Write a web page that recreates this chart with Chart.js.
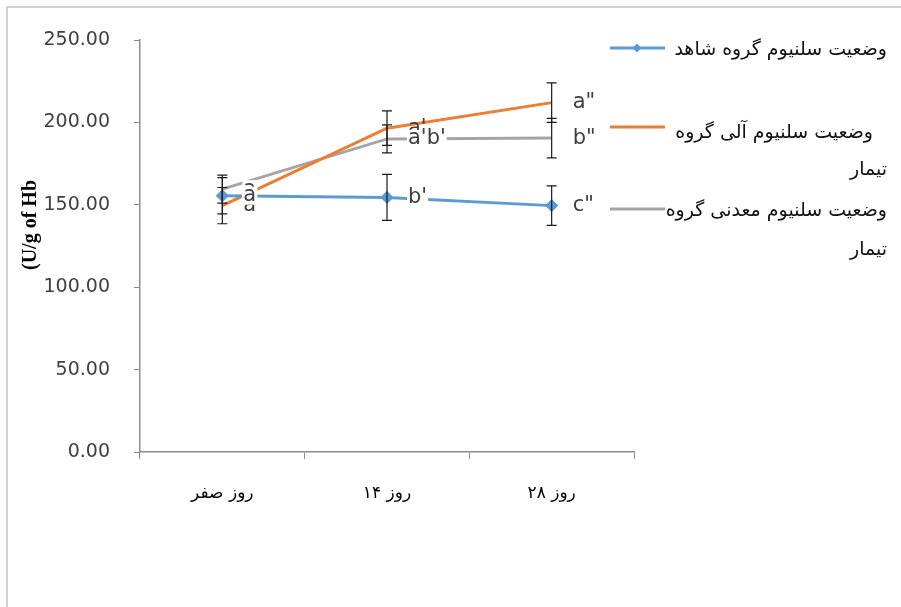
<!DOCTYPE html>
<html>
<head>
<meta charset="utf-8">
<script src="https://cdn.jsdelivr.net/npm/chart.js@4.4.1/dist/chart.umd.min.js"></script>
<style>
  html, body { margin: 0; padding: 0; background: #ffffff; }
  #wrap { width: 901px; height: 607px; }
</style>
</head>
<body>
<div id="wrap"><canvas id="c" width="901" height="607"></canvas></div>
<script>
// Sampling days
const categories = ['روز صفر', 'روز ۱۴', 'روز ۲۸'];

// Selenium status per group
const controlValues = [155.5, 154.5, 149.5];
const organicValues = [149.5, 196.5, 212.0];
const mineralValues = [159.5, 190.0, 190.5];

// Standard deviations
const controlErrors = [11, 14, 12];
const organicErrors = [11, 10.5, 12];
const mineralErrors = [8.5, 8.5, 12];

// Significance letters
const controlLetters = ['a', "b'", 'c"'];
const organicLetters = ['a', "a'", 'a"'];
const mineralLetters = ['a', "a'b'", 'b"'];

// Series names (second line of each name kept separate)
const controlName = ['وضعیت سلنیوم گروه شاهد'];
const organicName = ['وضعیت سلنیوم آلی گروه', 'تیمار'];
const mineralName = ['وضعیت سلنیوم معدنی گروه', 'تیمار'];

const yTicks = [0, 50, 100, 150, 200, 250];
const yTitle = '(U/g of Hb';

const BLUE = '#5B9BD5', ORANGE = '#ED7D31', GRAY = '#A5A5A5';
const AXIS = '#8c8c8c';

const errorsBySet = [controlErrors, organicErrors, mineralErrors];
const lettersBySet = [controlLetters, organicLetters, mineralLetters];

// Page frame lines and y-axis title
const framePlugin = {
  id: 'frame',
  beforeDraw(chart) {
    const ctx = chart.ctx;
    ctx.save();
    ctx.fillStyle = '#ffffff';
    ctx.fillRect(0, 0, chart.width, chart.height);
    ctx.strokeStyle = '#c4c4c4';
    ctx.lineWidth = 1.5;
    ctx.beginPath();
    ctx.moveTo(7, chart.height);
    ctx.lineTo(7, 7);
    ctx.lineTo(chart.width, 7);
    ctx.stroke();
    ctx.restore();
  },
  afterDraw(chart) {
    const ctx = chart.ctx;
    ctx.save();
    ctx.translate(31, 225);
    ctx.rotate(-Math.PI / 2);
    ctx.font = 'bold 20px "Liberation Serif"';
    ctx.fillStyle = '#000000';
    ctx.textAlign = 'center';
    ctx.textBaseline = 'middle';
    ctx.fillText(yTitle, 0, 0);
    ctx.restore();
  }
};

// Error bars and letter labels
const errorBarPlugin = {
  id: 'errorBars',
  afterDatasetsDraw(chart) {
    const ctx = chart.ctx;
    const y = chart.scales.y;
    ctx.save();
    ctx.strokeStyle = '#1a1a1a';
    ctx.lineWidth = 1.2;
    chart.data.datasets.forEach((ds, di) => {
      const meta = chart.getDatasetMeta(di);
      meta.data.forEach((pt, i) => {
        const v = ds.data[i], e = errorsBySet[di][i];
        const yTop = y.getPixelForValue(v + e);
        const yBot = y.getPixelForValue(v - e);
        const x = pt.x;
        ctx.beginPath();
        ctx.moveTo(x, yTop); ctx.lineTo(x, yBot);
        ctx.moveTo(x - 5, yTop); ctx.lineTo(x + 5, yTop);
        ctx.moveTo(x - 5, yBot); ctx.lineTo(x + 5, yBot);
        ctx.stroke();
      });
    });
    // letters: orange first, then gray and blue on white boxes
    ctx.font = '21px "DejaVu Sans"';
    ctx.textAlign = 'left';
    ctx.textBaseline = 'middle';
    [1, 2, 0].forEach(di => {
      const meta = chart.getDatasetMeta(di);
      meta.data.forEach((pt, i) => {
        const txt = lettersBySet[di][i];
        const x = pt.x + 21;
        const yy = pt.y;
        if (di !== 1) {
          const w = ctx.measureText(txt).width;
          ctx.fillStyle = '#ffffff';
          ctx.fillRect(x - 1, yy - 9, w + 2, 18);
        }
        ctx.fillStyle = '#404040';
        ctx.fillText(txt, x, yy);
      });
    });
    ctx.restore();
  }
};

// Legend on the right side
const legendPlugin = {
  id: 'sideLegend',
  afterDraw(chart) {
    const ctx = chart.ctx;
    const items = [
      { color: BLUE, marker: true, lineY: 48, lines: controlName, textY: [50], right: [887] },
      { color: ORANGE, marker: false, lineY: 127, lines: organicName, textY: [133, 170], right: [873, 887] },
      { color: GRAY, marker: false, lineY: 209, lines: mineralName, textY: [211, 250], right: [887, 887] }
    ];
    ctx.save();
    items.forEach(it => {
      ctx.strokeStyle = it.color;
      ctx.lineWidth = 3;
      ctx.beginPath();
      ctx.moveTo(610, it.lineY);
      ctx.lineTo(665, it.lineY);
      ctx.stroke();
      if (it.marker) {
        ctx.fillStyle = it.color;
        ctx.beginPath();
        ctx.moveTo(637, it.lineY - 4.5);
        ctx.lineTo(641.5, it.lineY);
        ctx.lineTo(637, it.lineY + 4.5);
        ctx.lineTo(632.5, it.lineY);
        ctx.closePath();
        ctx.fill();
      }
      ctx.fillStyle = '#111111';
      ctx.font = '19px "DejaVu Sans"';
      ctx.direction = 'rtl';
      ctx.textAlign = 'right';
      ctx.textBaseline = 'middle';
      it.lines.forEach((ln, k) => ctx.fillText(ln, it.right[k], it.textY[k]));
    });
    ctx.restore();
  }
};

new Chart(document.getElementById('c'), {
  type: 'line',
  data: {
    labels: categories,
    datasets: [
      { label: controlName.join(' '), data: controlValues, borderColor: BLUE, backgroundColor: BLUE,
        borderWidth: 3, pointStyle: 'rectRot', pointRadius: 4.5, pointHoverRadius: 4.5, tension: 0 },
      { label: organicName.join(' '), data: organicValues, borderColor: ORANGE, backgroundColor: ORANGE,
        borderWidth: 3, pointRadius: 0, tension: 0 },
      { label: mineralName.join(' '), data: mineralValues, borderColor: GRAY, backgroundColor: GRAY,
        borderWidth: 3, pointRadius: 0, tension: 0 }
    ]
  },
  options: {
    responsive: false,
    animation: false,
    events: [],
    layout: { padding: { left: 0, right: 267, top: 40, bottom: 0 } },
    plugins: { legend: { display: false }, tooltip: { enabled: false } },
    scales: {
      x: {
        offset: true,
        grid: { offset: true, drawOnChartArea: false, drawTicks: true, tickLength: 7, color: AXIS },
        border: { color: AXIS, width: 1.5 },
        ticks: { color: '#000000', font: { family: '"DejaVu Sans"', size: 17 }, padding: 24, maxRotation: 0 },
        afterFit(s) { s.height = 155; }
      },
      y: {
        min: 0, max: 250,
        afterBuildTicks(s) { s.ticks = yTicks.map(v => ({ value: v })); },
        grid: { drawOnChartArea: false, drawTicks: true, tickLength: 6, color: AXIS },
        border: { color: AXIS, width: 1.5 },
        ticks: { color: '#404040', font: { family: '"DejaVu Sans"', size: 19 }, padding: 24,
          callback: v => Number(v).toFixed(2) },
        afterFit(s) { s.width = 140; }
      }
    }
  },
  plugins: [framePlugin, errorBarPlugin, legendPlugin]
});
</script>
</body>
</html>
